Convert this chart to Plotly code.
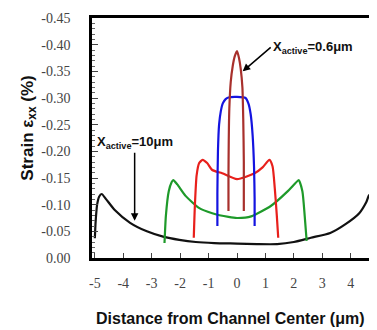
import plotly.graph_objects as go

# X_active = 10 um (black)
black_x = [-5.0, -4.97, -4.92, -4.85, -4.76, -4.6, -4.3, -3.76, -3.17, -2.6, -2.03, -1.45, -0.8, 0.0,
           0.7, 1.41, 2.0, 2.6, 3.28, 3.83, 4.3, 4.55, 4.65, 4.75, 4.83, 4.92, 5.0]
black_y = [-0.037, -0.07, -0.1, -0.115, -0.12, -0.11, -0.09, -0.066, -0.05, -0.04, -0.034, -0.03, -0.028, -0.027,
           -0.026, -0.026, -0.03, -0.038, -0.047, -0.064, -0.084, -0.105, -0.118, -0.115, -0.1, -0.06, -0.02]

# X_active ~ 5 um (green)
green_x = [-2.55, -2.5, -2.4, -2.3, -2.24, -2.1, -1.8, -1.34, -0.87, -0.3, 0.0, 0.5, 1.2, 1.76, 2.05, 2.17, 2.3, 2.38, 2.45]
green_y = [-0.028, -0.08, -0.125, -0.142, -0.146, -0.138, -0.116, -0.094, -0.084, -0.077, -0.075, -0.078, -0.098, -0.124, -0.14, -0.146, -0.125, -0.08, -0.032]

# X_active ~ 3 um (red)
red_x = [-1.52, -1.48, -1.42, -1.33, -1.21, -1.05, -0.87, -0.52, 0.0, 0.62, 0.9, 1.14, 1.25, 1.33, 1.4, 1.45]
red_y = [-0.038, -0.1, -0.155, -0.178, -0.184, -0.178, -0.165, -0.159, -0.148, -0.159, -0.17, -0.184, -0.172, -0.13, -0.08, -0.038]

# X_active ~ 1.3 um (blue)
blue_x = [-0.69, -0.69, -0.67, -0.63, -0.57, -0.5, -0.4, -0.3, 0.0, 0.3, 0.4, 0.48, 0.55, 0.6, 0.62, 0.62]
blue_y = [-0.06, -0.12, -0.2, -0.25, -0.275, -0.29, -0.298, -0.301, -0.302, -0.3, -0.29, -0.27, -0.23, -0.17, -0.11, -0.06]

# X_active = 0.6 um (brown)
brown_x = [-0.3, -0.3, -0.29, -0.27, -0.22, -0.15, -0.08, 0.0, 0.07, 0.13, 0.19, 0.22, 0.24, 0.24]
brown_y = [-0.088, -0.15, -0.22, -0.28, -0.33, -0.36, -0.378, -0.388, -0.375, -0.355, -0.32, -0.26, -0.18, -0.088]

x_ticks = [-5, -4, -3, -2, -1, 0, 1, 2, 3, 4, 5]
x_labels = ["-5", "-4", "-3", "-2", "-1", "0", "1", "2", "3", "4", "5"]
y_ticks = [0.0, -0.05, -0.10, -0.15, -0.20, -0.25, -0.30, -0.35, -0.40, -0.45]
y_labels = ["0.00", "-0.05", "-0.10", "-0.15", "-0.20", "-0.25", "-0.30", "-0.35", "-0.40", "-0.45"]

fig = go.Figure()
for xs, ys, col in [(black_x, black_y, "#111111"), (green_x, green_y, "#1e9a2a"),
                    (red_x, red_y, "#e8201c"), (blue_x, blue_y, "#1414e0"),
                    (brown_x, brown_y, "#a8302c")]:
    fig.add_trace(go.Scatter(x=xs, y=ys, mode="lines", line=dict(color=col, width=2.2, shape="spline", smoothing=0.6),
                             showlegend=False, hoverinfo="skip"))

tick_font = dict(family="Liberation Serif", size=14, color="#444")

fig.update_layout(
    width=377, height=330,
    margin=dict(l=84, r=2, t=10, b=80),
    plot_bgcolor="white", paper_bgcolor="white",
    xaxis=dict(range=[-5.1, 5.03], tickvals=x_ticks, ticktext=x_labels, ticks="inside", ticklen=5, tickwidth=1,
               tickcolor="#444", showgrid=False, zeroline=False, showline=True, linecolor="black",
               linewidth=2.5, mirror=True, ticklabelstandoff=10, tickfont=tick_font),
    yaxis=dict(range=[0, -0.45], tickvals=y_ticks, ticktext=y_labels, ticks="inside", ticklen=6,
               tickwidth=1, tickcolor="#444", showgrid=False, zeroline=False, showline=True,
               linecolor="black", linewidth=2.5, mirror=True, ticklabelstandoff=16,
               minor=dict(dtick=0.01, ticks="inside", ticklen=3, tickcolor="#666"),
               tickfont=tick_font),
    font=dict(family="Liberation Sans"),
)

fig.add_annotation(text="<b>Distance from Channel Center (μm)</b>", xref="paper", yref="paper",
                   x=(86 - 84) / 291, y=-(310 - 250) / 240, xanchor="left", yanchor="middle",
                   showarrow=False, font=dict(size=16, color="#111"))
fig.add_annotation(text="<b>Strain ε<sub>xx</sub> (%)</b>", xref="paper", yref="paper",
                   x=-(84 - 20) / 291, y=(250 - 120) / 240, xanchor="center", yanchor="middle",
                   textangle=-90, showarrow=False, font=dict(size=17, color="#111"))

fig.add_annotation(text="<b>X<sub>active</sub>=10μm</b>", x=-3.6, y=-0.07, ax=0, ay=-68,
                   showarrow=True, arrowhead=2, arrowsize=1, arrowwidth=1.5, arrowcolor="black",
                   yanchor="bottom", font=dict(size=13, color="#111"))
fig.add_annotation(text="<b>X<sub>active</sub>=0.6μm</b>", x=0.2, y=-0.35, ax=28, ay=-24,
                   showarrow=True, arrowhead=2, arrowsize=1, arrowwidth=1.5, arrowcolor="black",
                   xanchor="left", yanchor="middle", font=dict(size=13, color="#111"))

fig.write_html("out.html")
